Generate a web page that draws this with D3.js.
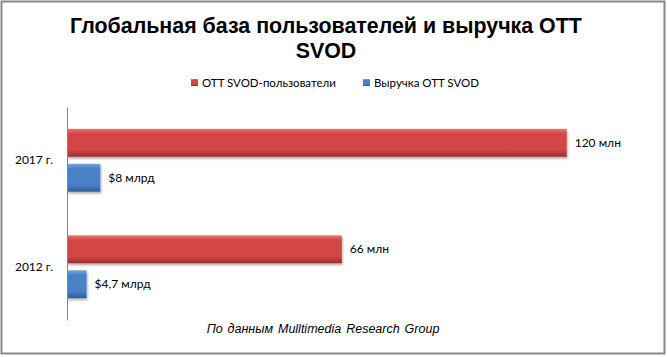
<!DOCTYPE html>
<html>
<head>
<meta charset="utf-8">
<script src="https://cdn.jsdelivr.net/npm/d3@7"></script>
<style>
  body { margin: 0; background: #fff; }
</style>
</head>
<body>
<div class="main"></div>
<script>
////Data
const categories = ['2017 г.', '2012 г.'];
const seriesNames = ['OTT SVOD-пользователи', 'Выручка OTT SVOD'];
const users = [120, 66];
const revenue = [8, 4.7];
const userLabels = ['120 млн', '66 млн'];
const revenueLabels = ['$8 млрд', '$4,7 млрд'];

////Global Variables
const width = 667;
const height = 357;
const plotLeft = 67;
const plotTop = 107;
const plotBottom = 320;
const labelFont = 'Lato, "Open Sans", sans-serif';

const svg = d3.select('.main').append('svg')
  .attr('width', width)
  .attr('height', height);

////Gradients for the bevelled bars
const defs = svg.append('defs');
function bevel(id, light, mid, dark) {
  const g = defs.append('linearGradient').attr('id', id)
    .attr('x1', 0).attr('y1', 0).attr('x2', 0).attr('y2', 1);
  g.append('stop').attr('offset', '0%').attr('stop-color', light);
  g.append('stop').attr('offset', '18%').attr('stop-color', mid);
  g.append('stop').attr('offset', '75%').attr('stop-color', mid);
  g.append('stop').attr('offset', '100%').attr('stop-color', dark);
}
bevel('red', '#ec7470', '#d24644', '#9c2e2d');
bevel('blue', '#78a6e0', '#4a80c6', '#2c5c98');
const shadow = defs.append('filter').attr('id', 'shadow')
  .attr('x', '-5%').attr('y', '-20%').attr('width', '115%').attr('height', '160%');
shadow.append('feDropShadow').attr('dx', 1).attr('dy', 2)
  .attr('stdDeviation', 1.2).attr('flood-color', '#000').attr('flood-opacity', 0.3);

////Outer frame
svg.append('rect')
  .attr('x', 1.5).attr('y', 1.5)
  .attr('width', 663).attr('height', 352)
  .attr('fill', '#fff').attr('stroke', '#888').attr('stroke-width', 2);

////Title
const title = svg.append('text')
  .attr('text-anchor', 'middle')
  .attr('font-family', 'Arial, "Liberation Sans", sans-serif')
  .attr('font-weight', 'bold')
  .attr('font-size', 21.4)
  .attr('fill', '#000');
title.append('tspan').attr('x', 326).attr('y', 33).text('Глобальная база пользователей и выручка ОТТ');
title.append('tspan').attr('x', 326).attr('y', 58).text('SVOD');

////Scales
const xScale = d3.scaleLinear().domain([0, 140]).range([plotLeft, 650]);
const yScale = d3.scaleBand().domain(categories)
  .range([plotTop, plotBottom]).paddingInner(0.41).paddingOuter(0.205);
const subScale = d3.scaleBand().domain(seriesNames)
  .range([0, yScale.bandwidth()]).paddingInner(0.2);

const rows = categories.map((c, i) => ({
  cat: c,
  values: [
    { s: seriesNames[0], v: users[i], label: userLabels[i], fill: 'url(#red)' },
    { s: seriesNames[1], v: revenue[i], label: revenueLabels[i], fill: 'url(#blue)' }
  ]
}));

////Bars
const groups = svg.selectAll('g.cat')
  .data(rows)
  .enter()
  .append('g')
  .attr('class', 'cat')
  .attr('transform', d => `translate(0, ${yScale(d.cat)})`);

groups.selectAll('rect')
  .data(d => d.values)
  .enter()
  .append('rect')
  .attr('x', xScale(0))
  .attr('y', d => subScale(d.s))
  .attr('width', d => xScale(d.v) - xScale(0))
  .attr('height', subScale.bandwidth())
  .attr('fill', d => d.fill)
  .attr('filter', 'url(#shadow)');

groups.selectAll('text.val')
  .data(d => d.values)
  .enter()
  .append('text')
  .attr('class', 'val')
  .attr('x', d => xScale(d.v) + 8)
  .attr('y', d => subScale(d.s) + subScale.bandwidth() / 2 + 4)
  .attr('font-family', labelFont)
  .attr('font-size', 12)
  .attr('fill', '#000')
  .text(d => d.label);

////Axis (line only, like the original)
const yAxis = d3.axisLeft(yScale).tickSize(0).tickPadding(14);
const axisG = svg.append('g')
  .attr('transform', `translate(${plotLeft}, 0)`)
  .call(yAxis);
axisG.select('.domain').attr('stroke', '#868686').attr('stroke-width', 1);
axisG.selectAll('text')
  .attr('font-family', labelFont)
  .attr('font-size', 12)
  .attr('fill', '#000');

////Legend
const legendItems = [
  { name: seriesNames[0], fill: 'url(#red)', x: 191 },
  { name: seriesNames[1], fill: 'url(#blue)', x: 363 }
];
const legend = svg.selectAll('g.legend')
  .data(legendItems)
  .enter()
  .append('g')
  .attr('class', 'legend')
  .attr('transform', d => `translate(${d.x}, 79)`);
legend.append('rect')
  .attr('width', 7).attr('height', 7)
  .attr('fill', d => d.fill);
legend.append('text')
  .attr('x', 11).attr('y', 7.5)
  .attr('font-family', labelFont)
  .attr('font-size', 11.5)
  .attr('fill', '#000')
  .text(d => d.name);

////Source note
svg.append('text')
  .attr('x', 323).attr('y', 333)
  .attr('text-anchor', 'middle')
  .attr('font-family', 'Arial, "Liberation Sans", sans-serif')
  .attr('font-style', 'italic')
  .attr('font-size', 12.5)
  .attr('word-spacing', 1.5)
  .attr('fill', '#000')
  .text('По данным Mulltimedia Research Group');
</script>
</body>
</html>
